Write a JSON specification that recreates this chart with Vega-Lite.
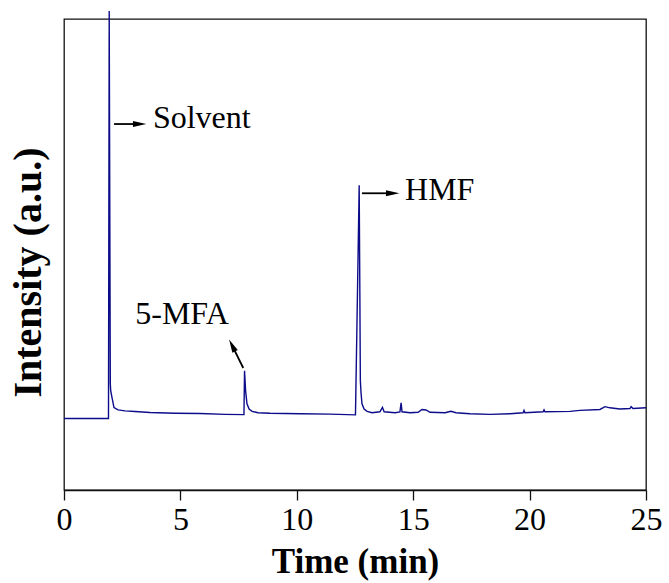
{
  "$schema": "https://vega.github.io/schema/vega-lite/v6.json",
  "autosize": {"type": "none"},
  "width": 582,
  "height": 471,
  "padding": {"left": 64, "top": 19, "right": 23, "bottom": 93},
  "background": "white",
  "config": {
    "view": {"stroke": "#111111", "strokeWidth": 1.3},
    "font": "Liberation Serif"
  },
  "datasets": {
    "chrom": [
      {"t": 0, "v": 15.17}, {"t": 1.911, "v": 15.17}, {"t": 1.942, "v": 101.7},
      {"t": 1.989, "v": 22.55}, {"t": 2.006, "v": 21.1}, {"t": 2.062, "v": 19.6},
      {"t": 2.148, "v": 17.5}, {"t": 2.32, "v": 17.0}, {"t": 2.62, "v": 16.8},
      {"t": 3.05, "v": 16.66}, {"t": 3.69, "v": 16.45}, {"t": 4.77, "v": 16.3},
      {"t": 5.84, "v": 16.23}, {"t": 6.92, "v": 16.06}, {"t": 7.73, "v": 16.0},
      {"t": 7.755, "v": 25.3}, {"t": 7.8, "v": 21.1}, {"t": 7.86, "v": 18.3},
      {"t": 7.95, "v": 17.2}, {"t": 8.08, "v": 16.7}, {"t": 8.33, "v": 16.4},
      {"t": 8.85, "v": 16.3}, {"t": 10.14, "v": 16.2}, {"t": 11.43, "v": 16.1},
      {"t": 12.52, "v": 15.96}, {"t": 12.58, "v": 33.8}, {"t": 12.68, "v": 64.7},
      {"t": 12.71, "v": 40.2}, {"t": 12.73, "v": 23.2}, {"t": 12.76, "v": 20.6},
      {"t": 12.8, "v": 18.3}, {"t": 12.89, "v": 17.2}, {"t": 13.02, "v": 16.7},
      {"t": 13.23, "v": 16.4}, {"t": 13.57, "v": 16.6}, {"t": 13.68, "v": 17.55},
      {"t": 13.75, "v": 16.6}, {"t": 14.22, "v": 16.4}, {"t": 14.43, "v": 16.6},
      {"t": 14.48, "v": 18.5}, {"t": 14.52, "v": 16.6}, {"t": 14.86, "v": 16.4},
      {"t": 15.21, "v": 16.5}, {"t": 15.38, "v": 17.1}, {"t": 15.55, "v": 17.0},
      {"t": 15.72, "v": 16.5}, {"t": 16.37, "v": 16.4}, {"t": 16.62, "v": 16.7},
      {"t": 16.84, "v": 16.4}, {"t": 17.44, "v": 16.2}, {"t": 18.3, "v": 16.06},
      {"t": 19.16, "v": 16.2}, {"t": 19.72, "v": 16.4}, {"t": 19.76, "v": 16.9},
      {"t": 19.8, "v": 16.4}, {"t": 20.58, "v": 16.6}, {"t": 20.62, "v": 17.0},
      {"t": 20.66, "v": 16.6}, {"t": 21.74, "v": 16.7}, {"t": 22.16, "v": 16.9},
      {"t": 23.02, "v": 17.1}, {"t": 23.24, "v": 17.7}, {"t": 23.45, "v": 17.45},
      {"t": 23.88, "v": 17.2}, {"t": 24.31, "v": 17.3}, {"t": 24.36, "v": 17.7},
      {"t": 24.44, "v": 17.3}, {"t": 25.0, "v": 17.45}
    ],
    "labels": [
      {"label": "Solvent", "t": 3.82, "v": 76.8},
      {"label": "HMF", "t": 14.65, "v": 61.5},
      {"label": "5-MFA", "t": 3.06, "v": 35.3}
    ],
    "shafts": [
      {"t1": 2.15, "v1": 77.7, "t2": 3.25, "v2": 77.7},
      {"t1": 12.8, "v1": 63.0, "t2": 14.12, "v2": 63.0},
      {"t1": 7.70, "v1": 25.9, "t2": 7.22, "v2": 30.7}
    ],
    "heads": [
      {"t": 3.25, "v": 77.7, "ang": 0},
      {"t": 14.12, "v": 63.0, "ang": 0},
      {"t": 7.22, "v": 30.7, "ang": 243.4}
    ]
  },
  "layer": [
    {
      "data": {"name": "chrom"},
      "mark": {"type": "line", "color": "#0c0c8a", "strokeWidth": 1.4, "clip": false, "interpolate": "linear"},
      "encoding": {
        "x": {
          "field": "t", "type": "quantitative",
          "scale": {"domain": [0, 25], "nice": false, "zero": false},
          "axis": {
            "title": "Time (min)",
            "values": [0, 5, 10, 15, 20, 25],
            "grid": false,
            "domainColor": "#111111", "domainWidth": 1.3,
            "tickColor": "#111111", "tickWidth": 1.3, "tickSize": 10,
            "labelFont": "Liberation Serif", "labelFontSize": 32, "labelColor": "black",
            "labelPadding": 4, "labelFlush": false, "labelOverlap": false,
            "titleFont": "Liberation Serif", "titleFontSize": 35, "titleFontWeight": "bold",
            "titleColor": "black", "titleBaseline": "alphabetic", "titleY": 82
          }
        },
        "y": {
          "field": "v", "type": "quantitative",
          "scale": {"domain": [0, 100], "nice": false, "zero": false},
          "axis": {
            "title": "Intensity (a.u.)",
            "grid": false, "ticks": false, "labels": false, "domain": false,
            "titleFont": "Liberation Serif", "titleFontSize": 40, "titleFontWeight": "bold",
            "titleColor": "black", "titleAngle": -90, "titleBaseline": "alphabetic",
            "titleAlign": "center", "titleX": -24, "titleY": 253
          }
        }
      }
    },
    {
      "data": {"name": "shafts"},
      "mark": {"type": "rule", "color": "black", "strokeWidth": 1.8},
      "encoding": {
        "x": {"field": "t1", "type": "quantitative"},
        "y": {"field": "v1", "type": "quantitative"},
        "x2": {"field": "t2"},
        "y2": {"field": "v2"}
      }
    },
    {
      "data": {"name": "heads"},
      "mark": {"type": "point", "shape": "M-1,-0.45L1,0L-1,0.45Z", "filled": true, "color": "black", "opacity": 1, "size": 180, "strokeWidth": 0},
      "encoding": {
        "x": {"field": "t", "type": "quantitative"},
        "y": {"field": "v", "type": "quantitative"},
        "angle": {"field": "ang", "type": "quantitative", "scale": null}
      }
    },
    {
      "data": {"name": "labels"},
      "mark": {"type": "text", "font": "Liberation Serif", "fontSize": 32, "color": "black", "baseline": "alphabetic", "align": "left"},
      "encoding": {
        "x": {"field": "t", "type": "quantitative"},
        "y": {"field": "v", "type": "quantitative"},
        "text": {"field": "label"}
      }
    }
  ]
}
